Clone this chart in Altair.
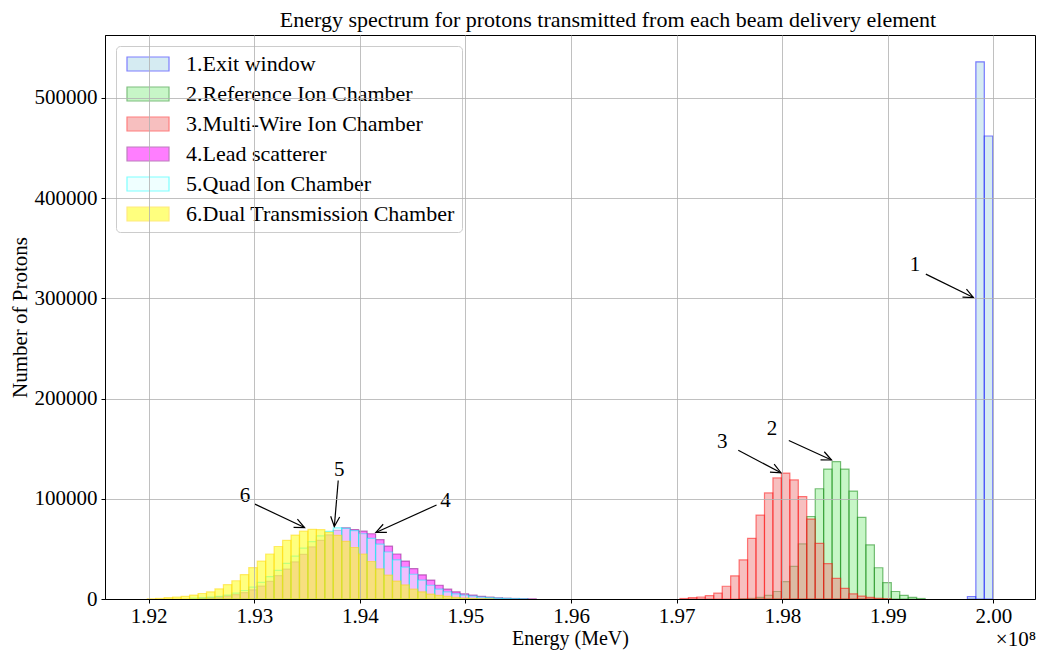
import math
import altair as alt
import pandas as pd

# ---------------- data (energies in units of 1e8 MeV) ----------------
SERIES = ["1.Exit window", "2.Reference Ion Chamber", "3.Multi-Wire Ion Chamber",
          "4.Lead scatterer", "5.Quad Ion Chamber", "6.Dual Transmission Chamber"]
FILL_COLORS = ["#add8e6", "#90ee90", "#f08080", "#ff00ff", "#e0ffff", "#ffff00"]
EDGE_COLORS = ["#0000ff", "#008000", "#ff0000", "#800080", "#00ffff", "#ffd700"]

BIN_START = 1.91987
BIN_WIDTH = 0.0008006

EXIT_FIRST_BIN = 97
EXIT_COUNTS = [2400, 536000, 462000]

REF_FIRST_BIN = 70
REF_COUNTS = [200, 600, 1600, 3600, 7500, 17300, 32600, 55000, 82300, 110000, 129600,
              137000, 129600, 107700, 81400, 54000, 31200, 16300, 7500, 3600, 1600, 500]

MWIC_FIRST_BIN = 63
MWIC_COUNTS = [500, 1300, 2000, 3300, 5900, 12700, 23100, 39000, 60500, 83700, 105800,
               120800, 125700, 118800, 102200, 79800, 55600, 35300, 20500, 10700, 5200,
               2900, 1600, 700, 300]

LEAD_FIRST_BIN = 6
LEAD_COUNTS = [700, 1200, 1800, 2800, 4300, 6400, 9200, 12800, 17500, 23300, 29800, 37000,
               44500, 52000, 58500, 64000, 68500, 71000, 69300, 67700, 65100, 59200, 52700,
               44900, 37800, 30300, 24100, 18900, 13700, 9800, 7200, 5200, 3900, 2600, 1900,
               1200, 800, 500, 300, 150]

QUAD_FIRST_BIN = 5
QUAD_COUNTS = [800, 1200, 1800, 2600, 3900, 5900, 8500, 11900, 16500, 22400, 28500, 35500,
               42800, 50800, 57300, 63000, 67500, 71000, 70500, 68300, 65100, 60500, 54700,
               46900, 39000, 31900, 24700, 18900, 13700, 9800, 7200, 5200, 3900, 2900, 1900,
               1300, 800, 500, 300, 150]

DUAL_FIRST_BIN = 0
DUAL_COUNTS = [200, 600, 1300, 2000, 2600, 3900, 5500, 7200, 10100, 14300, 18200, 24400,
               31300, 37800, 44900, 52400, 58600, 63800, 67700, 69500, 69300, 66500, 63500,
               57500, 51400, 44900, 37400, 30000, 23800, 17900, 14000, 9800, 7200, 4900,
               3600, 2600, 1600, 1000, 600, 300, 150]

# annotations
ANN_LABELS = ["1", "2", "3", "4", "5", "6"]
ANN_TEXT_E = [1.99256, 1.97902, 1.97432, 1.94810, 1.93805, 1.92912]
ANN_TEXT_N = [333000, 169900, 156300, 97700, 128900, 102500]
ANN_TAIL_E = [1.99359, 1.98062, 1.97583, 1.94726, 1.93795, 1.93006]
ANN_TAIL_N = [324200, 158200, 148400, 93800, 118200, 94700]
ANN_TIP_E = [1.99810, 1.98466, 1.97987, 1.94152, 1.93758, 1.93476]
ANN_TIP_N = [300800, 138700, 126000, 66400, 72300, 71300]

X_TICKS = [1.92, 1.93, 1.94, 1.95, 1.96, 1.97, 1.98, 1.99, 2.00]
Y_TICKS = [0, 100000, 200000, 300000, 400000, 500000]
X_DOMAIN = [1.915865, 2.00393]
Y_DOMAIN = [0, 562800]

TITLE = "Energy spectrum for protons transmitted from each beam delivery element"
X_TITLE = "Energy (MeV)"
Y_TITLE = "Number of Protons"
X_MULT = ["×10⁸"]

FONT = "Liberation Serif"
FS = 21
W, H = 930, 564

# ---------------- tables ----------------
groups = [(EXIT_FIRST_BIN, EXIT_COUNTS), (REF_FIRST_BIN, REF_COUNTS),
          (MWIC_FIRST_BIN, MWIC_COUNTS), (LEAD_FIRST_BIN, LEAD_COUNTS),
          (QUAD_FIRST_BIN, QUAD_COUNTS), (DUAL_FIRST_BIN, DUAL_COUNTS)]
rows = []
for s, (first, counts) in enumerate(groups):
    for i, c in enumerate(counts):
        k = first + i
        rows.append({"series": SERIES[s], "e0": BIN_START + k * BIN_WIDTH,
                     "e1": BIN_START + (k + 1) * BIN_WIDTH, "count": c, "base": 0})
bars_df = pd.DataFrame(rows)

xspan = X_DOMAIN[1] - X_DOMAIN[0]
yspan = Y_DOMAIN[1] - Y_DOMAIN[0]
angles = []
for te, tn, pe, pn in zip(ANN_TAIL_E, ANN_TAIL_N, ANN_TIP_E, ANN_TIP_N):
    dx = (pe - te) / xspan * W
    dy = -(pn - tn) / yspan * H
    angles.append(math.degrees(math.atan2(dy, dx)) % 360)
ann_df = pd.DataFrame({"label": ANN_LABELS, "te": ANN_TEXT_E, "tn": ANN_TEXT_N,
                       "ae": ANN_TAIL_E, "an": ANN_TAIL_N, "pe": ANN_TIP_E,
                       "pn": ANN_TIP_N, "ang": angles})

# ---------------- chart ----------------
x_scale = alt.Scale(domain=X_DOMAIN, nice=False, zero=False)
y_scale = alt.Scale(domain=Y_DOMAIN, nice=False, zero=False)
x_axis = alt.Axis(title=X_TITLE, values=X_TICKS, format=".2f", grid=True, zindex=1,
                  labelPadding=2, titlePadding=2, titleFontSize=20,
                  labelFlush=False, labelOverlap=False)
y_axis = alt.Axis(title=Y_TITLE, values=Y_TICKS, format="d", grid=True, zindex=1,
                  labelPadding=4, titlePadding=4, labelOverlap=False)

legend = alt.Legend(title=None, orient="top-left", offset=11,
                    symbolType="M-1,-1H5V1H-1Z", symbolSize=196, symbolOpacity=0.5,
                    symbolStrokeWidth=1.2,
                    labelOffset=41, rowPadding=8, padding=7,
                    fillColor="rgba(255,255,255,0.8)", strokeColor="#cccccc",
                    cornerRadius=4, labelFont=FONT, labelFontSize=22, labelColor="black",
                    labelLimit=0)

bars = alt.Chart(bars_df).mark_rect(fillOpacity=0.5, strokeOpacity=0.5, strokeWidth=1.2).encode(
    x=alt.X("e0:Q", scale=x_scale, axis=x_axis),
    x2="e1:Q",
    y=alt.Y("count:Q", scale=y_scale, axis=y_axis),
    y2="base:Q",
    fill=alt.Fill("series:N", scale=alt.Scale(domain=SERIES, range=FILL_COLORS), legend=legend),
    stroke=alt.Stroke("series:N", scale=alt.Scale(domain=SERIES, range=EDGE_COLORS), legend=legend),
)

shafts = alt.Chart(ann_df).mark_rule(color="black", strokeWidth=1.2).encode(
    x=alt.X("ae:Q", scale=x_scale, axis=x_axis),
    y=alt.Y("an:Q", scale=y_scale, axis=y_axis),
    x2="pe:Q", y2="pn:Q",
)

heads = alt.Chart(ann_df).mark_point(shape="M-1,-0.45L0,0L-1,0.45", filled=False, size=400,
                                     color="black", strokeWidth=1.2, opacity=1).encode(
    x=alt.X("pe:Q", scale=x_scale, axis=x_axis),
    y=alt.Y("pn:Q", scale=y_scale, axis=y_axis),
    angle=alt.Angle("ang:Q", scale=None),
)

texts = alt.Chart(ann_df).mark_text(font=FONT, fontSize=FS, color="black",
                                    align="center", baseline="middle").encode(
    x=alt.X("te:Q", scale=x_scale, axis=x_axis),
    y=alt.Y("tn:Q", scale=y_scale, axis=y_axis),
    text="label:N",
)

mult = alt.Chart(pd.DataFrame({"t": X_MULT})).mark_text(
    font=FONT, fontSize=FS, color="black", align="right", baseline="bottom").encode(
    x=alt.value(W + 1), y=alt.value(H + 51), text="t:N")

chart = alt.layer(bars, shafts, heads, texts, mult).properties(
    width=W, height=H,
    title=alt.TitleParams(TITLE, font=FONT, fontSize=22, fontWeight="normal",
                          anchor="middle", offset=3, dx=38, color="black"),
    autosize=alt.AutoSizeParams(type="none"),
    padding={"left": 97, "top": 27, "right": 1, "bottom": 52},
).configure_view(stroke="black", strokeWidth=1).configure_axis(
    labelFont=FONT, labelFontSize=FS, labelColor="black",
    titleFont=FONT, titleFontSize=FS, titleFontWeight="normal", titleColor="black",
    domainColor="black", tickColor="black", tickSize=4, tickWidth=1,
    gridColor="#b0b0b0", gridWidth=0.8,
)

chart.save("out.html", embed_options={"renderer": "svg", "actions": False})
